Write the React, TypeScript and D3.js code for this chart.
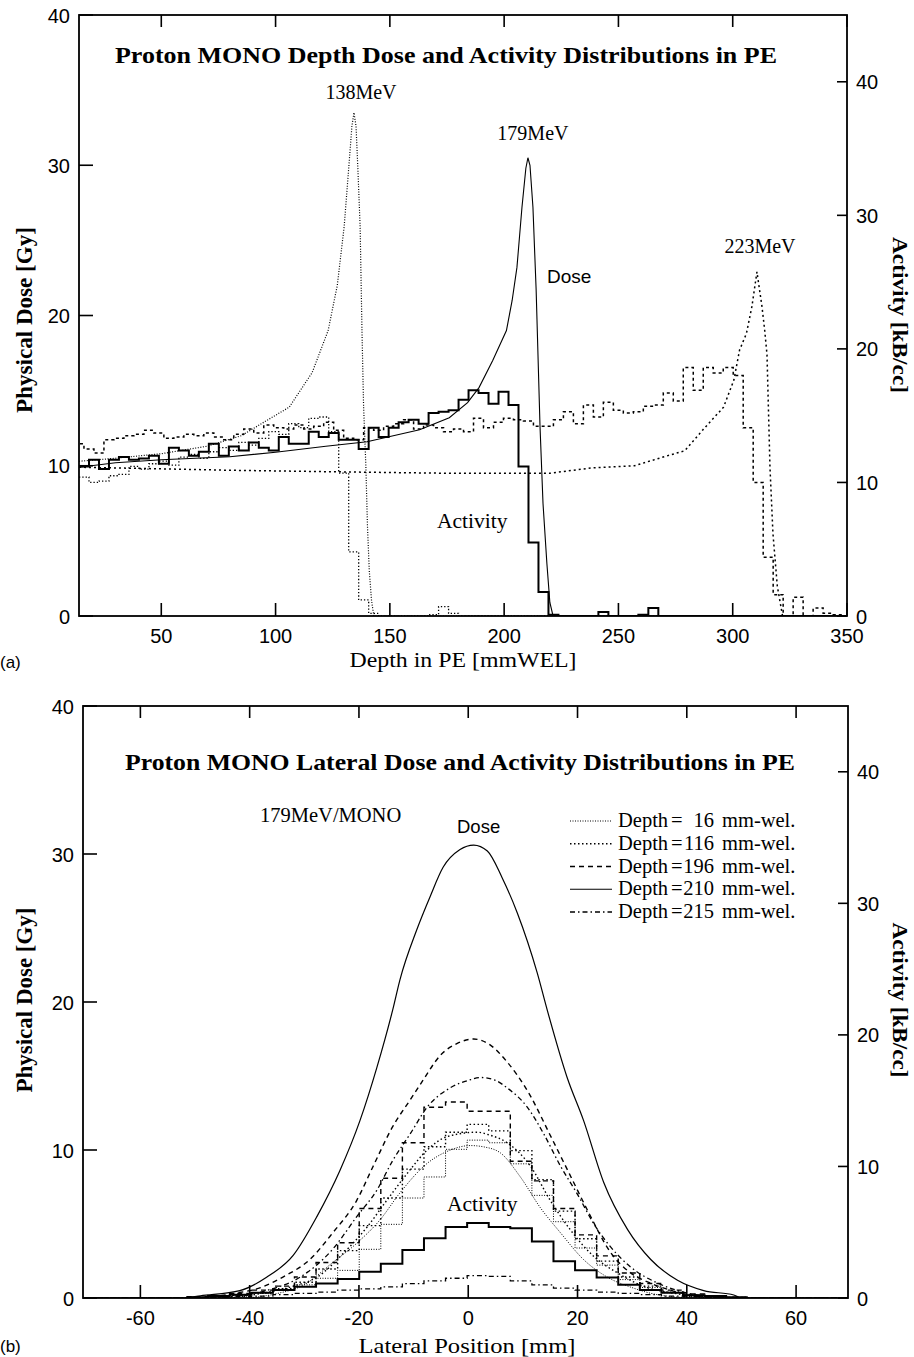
import React from 'react';
import * as d3 from 'd3';

// ---------------- Panel (a): depth distributions ----------------
const depthTicks = [50, 100, 150, 200, 250, 300, 350];
const doseTicksA = [0, 10, 20, 30, 40];
const actTicksA = [0, 10, 20, 30, 40];

// Dose curves [depth mm, Gy]
const dose138: [number, number][] = [
  [14, 10.3], [30, 10.5], [50, 10.8], [70, 11.3], [85, 12.0], [96, 13.0], [106, 13.9], [116, 16.2],
  [123, 19.0], [127, 22.0], [130, 25.9], [132, 29.8], [133.4, 32.6], [134.3, 33.5], [135.2, 32.6], [136, 29.8],
  [137, 25.9], [137.8, 19.0], [138.5, 14.0], [139.5, 10.0], [140.2, 6.0], [141, 3.0], [142, 1.0], [143, 0], [350, 0],
];
const dose179: [number, number][] = [
  [14, 9.9], [30, 10.2], [50, 10.4], [80, 10.6], [100, 10.9], [122, 11.3], [140, 11.6], [163, 12.4], [176, 13.2],
  [184, 14.2], [189, 15.2], [195, 17.0], [201, 19.0], [203.5, 21.0], [205.6, 23.2], [207.8, 27.2], [209.5, 29.8],
  [210.4, 30.5], [211.3, 30.0], [212.6, 27.2], [214, 21.7], [215.7, 12.6], [217, 7.5], [218.7, 3.5], [220, 0.9],
  [221.4, 0], [350, 0],
];
const dose223: [number, number][] = [
  [14, 9.9], [48, 9.8], [80, 9.7], [125, 9.6], [175, 9.5], [220, 9.5], [238, 9.85], [257, 10.0], [270, 10.6],
  [279, 11.0], [287, 12.4], [296, 13.9], [300.5, 15.7], [303, 17.7], [306, 18.8], [308.4, 20.6], [310.6, 22.9],
  [312.8, 20.6], [314, 19.0], [315, 17.4], [316.3, 9.9], [317.6, 5.5], [319.5, 2.0], [321.8, 0], [350, 0],
];

// Activity histograms [kBq/cc], bins of 4.37 mm
const binWidthA = 4.37;
const act138Start = 14;
const act138 = [
  10.4, 10.0, 10.1, 10.5, 10.6, 11.2, 11.0, 11.4, 11.6, 11.3, 11.9, 12.1, 11.8, 12.3, 12.6, 12.4, 13.0, 12.8, 13.3,
  13.8, 13.6, 14.4, 14.1, 14.8, 14.9, 13.8, 10.7, 4.8, 1.2, 0.2, 0, 0, 0, 0, 0, 0.1, 0.7, 0.2, 0, 0, 0, 0, 0, 0, 0,
  0, 0, 0, 0, 0, 0, 0, 0, 0, 0, 0, 0, 0, 0, 0, 0, 0, 0, 0, 0, 0, 0, 0, 0, 0, 0, 0, 0, 0, 0, 0, 0,
];
const act179Start = 14;
const act179 = [
  11.2, 11.7, 11.0, 11.7, 11.9, 11.7, 11.8, 12.0, 11.4, 12.6, 12.4, 12.0, 12.3, 12.9, 12.0, 12.7, 12.4, 13.0, 12.6,
  12.4, 13.4, 12.9, 12.9, 13.8, 13.4, 13.7, 13.2, 13.2, 12.5, 14.1, 13.4, 14.1, 14.5, 14.7, 14.4, 15.2, 15.3, 15.4,
  16.2, 16.9, 16.7, 15.9, 16.8, 15.8, 11.2, 5.5, 1.8, 0.1, 0, 0, 0, 0, 0.3, 0, 0, 0, 0.1, 0.6, 0, 0, 0, 0, 0, 0, 0,
  0, 0, 0, 0, 0, 0, 0, 0, 0, 0, 0, 0,
];
const act223Start = 11.8;
const act223 = [
  12.9, 12.5, 12.2, 13.2, 13.3, 13.5, 13.6, 13.9, 13.7, 13.3, 13.4, 13.6, 13.5, 13.7, 13.4, 13.2, 13.6, 14.0, 13.7,
  14.3, 14.1, 14.0, 14.3, 14.0, 14.2, 14.5, 13.9, 13.3, 13.2, 14.1, 13.9, 14.2, 14.4, 14.7, 14.0, 14.3, 14.1, 13.8,
  14.0, 13.8, 14.8, 14.1, 14.5, 14.8, 14.7, 14.6, 14.2, 14.2, 14.7, 15.3, 14.4, 15.8, 14.9, 16.0, 15.4, 15.2, 15.3,
  15.7, 15.8, 16.7, 16.1, 18.6, 16.9, 18.6, 18.2, 18.6, 18.0, 14.1, 10.0, 4.4, 1.6, 0, 1.4, 0, 0.6, 0.2, 0.1, 0,
];

// Energy labels placed at their Bragg peaks
const energyLabels = [
  { text: '138MeV', depth: 134.3, dose: 33.5, dx: 7, dy: -14 },
  { text: '179MeV', depth: 210.4, dose: 30.5, dx: 5, dy: -18 },
  { text: '223MeV', depth: 310.6, dose: 22.9, dx: 3, dy: -19 },
];

// ---------------- Panel (b): lateral distributions ----------------
const lateralTicks = [-60, -40, -20, 0, 20, 40, 60];
const doseTicksB = [0, 10, 20, 30, 40];
const actTicksB = [0, 10, 20, 30, 40];

const lat16: [number, number][] = [
  [-70, 0], [-42, 0], [-35, 0.3], [-30, 0.9], [-24.8, 2.4], [-20.4, 3.7], [-16.1, 5.3], [-12.5, 7.1], [-7.5, 9.1],
  [-3.9, 9.9], [0.4, 10.3], [3, 10.2], [5.9, 9.8], [9.5, 8.2], [13.2, 6.1], [16.9, 4.4], [21.1, 2.6], [25.5, 1.4],
  [30, 0.7], [35, 0.2], [42, 0], [70, 0],
];
const lat116: [number, number][] = [
  [-70, 0], [-45, 0], [-38, 0.3], [-32, 0.8], [-27.7, 1.4], [-22.9, 3.0], [-18.5, 4.8], [-14.9, 6.6], [-11.2, 8.4],
  [-7.5, 10.0], [-3.9, 10.9], [1.6, 11.2], [4, 11.0], [7.1, 10.5], [11.4, 8.9], [15, 6.6], [18.7, 4.6], [23, 2.8],
  [27.3, 1.7], [32, 0.8], [38, 0.3], [45, 0], [70, 0],
];
const lat196: [number, number][] = [
  [-70, 0], [-49, 0], [-43, 0.3], [-38, 0.7], [-34, 1.4], [-29, 2.6], [-24.8, 4.4], [-20.4, 6.6], [-17.4, 8.9],
  [-13.8, 11.6], [-10.6, 13.4], [-8.3, 14.7], [-5.1, 16.4], [-2, 17.2], [1, 17.5], [4, 17.1], [7, 16.0], [11, 13.9],
  [15, 11.0], [18.5, 8.4], [22, 5.8], [26, 3.1], [29.7, 1.7], [33.4, 1.0], [39.5, 0.3], [45.6, 0], [70, 0],
];
const lat210: [number, number][] = [
  [-70, 0], [-52, 0], [-49, 0.15], [-41.8, 0.5], [-36.9, 1.4], [-32, 2.9], [-27.7, 5.5], [-23.5, 8.6], [-19.8, 12.0],
  [-16.7, 15.6], [-13.8, 19.5], [-12.5, 21.5], [-9.4, 24.9], [-7, 27.1], [-4.6, 29.1], [-1.5, 30.3], [1, 30.6],
  [3.5, 30.2], [6.2, 28.4], [9, 26.0], [12.6, 22.0], [14.5, 19.4], [18.1, 14.9], [21.1, 12.0], [24.8, 7.8],
  [29.2, 4.6], [33.4, 2.6], [38.3, 1.2], [43.1, 0.5], [48.6, 0.2], [50, 0], [70, 0],
];
const lat215: [number, number][] = [
  [-70, 0], [-45, 0], [-43, 0.1], [-37, 0.5], [-30.8, 1.4], [-24.8, 3.3], [-20.4, 5.5], [-16.7, 7.3], [-13.8, 9.3],
  [-10.6, 11.1], [-7.5, 12.9], [-3.3, 14.2], [0, 14.7], [2.2, 14.9], [5, 14.7], [7.1, 14.2], [10.8, 12.9],
  [13.8, 11.1], [16.9, 8.9], [20, 7.0], [23, 5.0], [25.5, 3.7], [29.7, 2.1], [34.7, 1.0], [40.5, 0.3], [48, 0], [70, 0],
];

const binStartB = -51.55;
const binWidthB = 3.95;
const latAct16 = [0.05, 0.1, 0.2, 0.35, 0.6, 1.0, 1.5, 2.1, 3.7, 5.6, 7.6, 9.2, 11.3, 12.0, 11.8, 10.2, 7.8, 5.8, 3.8, 2.5, 1.4, 0.8, 0.4, 0.2, 0.1, 0.05];
const latAct116 = [0.05, 0.1, 0.2, 0.4, 0.7, 1.2, 2.2, 3.6, 5.5, 7.6, 9.8, 11.5, 12.6, 13.2, 12.7, 11.2, 9.0, 6.6, 4.5, 2.8, 1.6, 0.9, 0.45, 0.2, 0.1, 0.05];
const latAct196 = [0.1, 0.2, 0.35, 0.6, 0.9, 1.6, 2.7, 4.2, 6.8, 9.1, 11.8, 14.5, 14.9, 14.2, 14.2, 10.4, 8.9, 6.8, 4.8, 3.2, 1.9, 1.1, 0.6, 0.3, 0.15, 0.05];
const latAct210 = [0.05, 0.15, 0.25, 0.4, 0.6, 0.85, 1.1, 1.45, 2.0, 2.6, 3.65, 4.55, 5.4, 5.7, 5.4, 5.3, 4.3, 2.8, 2.1, 1.55, 1.0, 0.6, 0.4, 0.2, 0.15, 0.05];
const latAct215 = [0.02, 0.05, 0.1, 0.15, 0.25, 0.35, 0.45, 0.6, 0.7, 0.85, 1.1, 1.3, 1.5, 1.7, 1.65, 1.3, 1.0, 0.75, 0.6, 0.45, 0.35, 0.25, 0.15, 0.1, 0.05, 0.02];

const legendDepths = ['16', '116', '196', '210', '215'];

// ---------------- styles ----------------
const SERIF = '"Liberation Serif", "Times New Roman", serif';
const SANS = '"Liberation Sans", Arial, sans-serif';

const styleA = {
  dose138: { w: 1.2, dash: '1 1.6' },
  act138: { w: 1.3, dash: '1.3 2' },
  dose179: { w: 1.1, dash: '' },
  act179: { w: 2, dash: '' },
  dose223: { w: 1.5, dash: '2 3' },
  act223: { w: 1.5, dash: '3 3' },
};
const styleB = [
  { w: 1.0, dash: '1 1.5' },
  { w: 1.4, dash: '1.5 2.5' },
  { w: 1.4, dash: '5 4' },
  { w: 1.2, dash: '' },
  { w: 1.3, dash: '5 3 1.5 3' },
];

function histPoints(start: number, w: number, vals: number[]): [number, number][] {
  const pts: [number, number][] = vals.map((v, i) => [start + i * w, v]);
  pts.push([start + vals.length * w, vals[vals.length - 1]]);
  return pts;
}

type Frame = { l: number; r: number; t: number; b: number };

function FrameAxes({ f, x, y, y2, xt, yt, y2t }: any) {
  return (
    <g>
      <rect x={f.l} y={f.t} width={f.r - f.l} height={f.b - f.t} fill="none" stroke="#000" strokeWidth={1.8} />
      {yt.map((v: number) => (
        <g key={'yl' + v}>
          <line x1={f.l} x2={f.l + 14} y1={y(v)} y2={y(v)} stroke="#000" strokeWidth={1.6} />
          <text x={f.l - 9} y={y(v) + 7.5} textAnchor="end" fontFamily={SANS} fontSize={20}>{v}</text>
        </g>
      ))}
      {y2t.map((v: number) => (
        <g key={'yr' + v}>
          <line x1={f.r - 10} x2={f.r} y1={y2(v)} y2={y2(v)} stroke="#000" strokeWidth={1.6} />
          <text x={f.r + 9} y={y2(v) + 7.5} textAnchor="start" fontFamily={SANS} fontSize={20}>{v}</text>
        </g>
      ))}
      {xt.map((v: number) => (
        <g key={'x' + v}>
          <line x1={x(v)} x2={x(v)} y1={f.b} y2={f.b - 13} stroke="#000" strokeWidth={1.6} />
          <line x1={x(v)} x2={x(v)} y1={f.t} y2={f.t + 12} stroke="#000" strokeWidth={1.6} />
          <text x={x(v)} y={f.b + 27} textAnchor="middle" fontFamily={SANS} fontSize={20}>{v}</text>
        </g>
      ))}
    </g>
  );
}

export default function App() {
  // ---------- Panel A scales ----------
  const fA: Frame = { l: 79, r: 847, t: 15, b: 616 };
  const xA = d3.scaleLinear().domain([14, 350]).range([fA.l, fA.r]);
  const yA = d3.scaleLinear().domain([0, 40]).range([fA.b, fA.t]);
  const yA2 = d3.scaleLinear().domain([0, 45]).range([fA.b, fA.t]);
  const lineA = d3.line<[number, number]>().x((d) => xA(d[0])).y((d) => yA(d[1]));
  const histA = d3.line<[number, number]>().x((d) => xA(d[0])).y((d) => yA2(d[1])).curve(d3.curveStepAfter);

  // ---------- Panel B scales ----------
  const fB: Frame = { l: 83, r: 848, t: 706, b: 1298 };
  const xB = d3.scaleLinear().domain([-70.5, 69.5]).range([fB.l, fB.r]);
  const yB = d3.scaleLinear().domain([0, 40]).range([fB.b, fB.t]);
  const yB2 = d3.scaleLinear().domain([0, 45]).range([fB.b, fB.t]);
  const lineB = d3.line<[number, number]>().x((d) => xB(d[0])).y((d) => yB(d[1])).curve(d3.curveMonotoneX);
  const histB = d3.line<[number, number]>().x((d) => xB(d[0])).y((d) => yB2(d[1])).curve(d3.curveStepAfter);

  const latDose = [lat16, lat116, lat196, lat210, lat215];
  const latAct = [latAct16, latAct116, latAct196, latAct210, latAct215];

  const pathProps = (s: { w: number; dash: string }) => ({
    fill: 'none',
    stroke: '#000',
    strokeWidth: s.w,
    strokeDasharray: s.dash || undefined,
  });

  const legendX0 = 570;
  const legendX1 = 612;
  const legendY0 = 827;
  const legendDy = 22.75;

  return (
    <svg width={914} height={1357} style={{ position: 'absolute', left: 0, top: 0, background: '#fff' }}>
      <defs>
        <clipPath id="clipA"><rect x={fA.l} y={fA.t} width={fA.r - fA.l} height={fA.b - fA.t} /></clipPath>
        <clipPath id="clipB"><rect x={fB.l} y={fB.t} width={fB.r - fB.l} height={fB.b - fB.t} /></clipPath>
      </defs>
      <rect x={0} y={0} width={914} height={1357} fill="#fff" />

      {/* ================= Panel A ================= */}
      <g clipPath="url(#clipA)">
        <path d={lineA(dose138) || ''} {...pathProps(styleA.dose138)} />
        <path d={lineA(dose223) || ''} {...pathProps(styleA.dose223)} />
        <path d={lineA(dose179) || ''} {...pathProps(styleA.dose179)} />
        <path d={histA(histPoints(act138Start, binWidthA, act138)) || ''} {...pathProps(styleA.act138)} />
        <path d={histA(histPoints(act223Start, binWidthA, act223)) || ''} {...pathProps(styleA.act223)} />
        <path d={histA(histPoints(act179Start, binWidthA, act179)) || ''} {...pathProps(styleA.act179)} />
      </g>
      <FrameAxes f={fA} x={xA} y={yA} y2={yA2} xt={depthTicks} yt={doseTicksA} y2t={actTicksA} />
      <text x={446} y={63} textAnchor="middle" fontFamily={SERIF} fontWeight="bold" fontSize={24}
        textLength={662} lengthAdjust="spacingAndGlyphs">
        Proton MONO Depth Dose and Activity Distributions in PE
      </text>
      {energyLabels.map((e) => (
        <text key={e.text} x={xA(e.depth) + e.dx} y={yA(e.dose) + e.dy} textAnchor="middle"
          fontFamily={SERIF} fontSize={20}>{e.text}</text>
      ))}
      <text x={547} y={283} fontFamily={SANS} fontSize={19}>Dose</text>
      <text x={437} y={528} fontFamily={SERIF} fontSize={21.5}>Activity</text>
      <text x={463} y={667} textAnchor="middle" fontFamily={SERIF} fontSize={21.5}
        textLength={227} lengthAdjust="spacingAndGlyphs">Depth in PE [mmWEL]</text>
      <text transform={`translate(32,320) rotate(-90)`} textAnchor="middle" fontFamily={SERIF}
        fontWeight="bold" fontSize={24} textLength={186} lengthAdjust="spacingAndGlyphs">Physical Dose [Gy]</text>
      <text transform={`translate(893,315) rotate(90)`} textAnchor="middle" fontFamily={SERIF}
        fontWeight="bold" fontSize={21} textLength={156} lengthAdjust="spacingAndGlyphs">Activity [kB/cc]</text>
      <text x={0} y={668} fontFamily={SANS} fontSize={17}>(a)</text>

      {/* ================= Panel B ================= */}
      <g clipPath="url(#clipB)">
        {latDose.map((d, i) => (
          <path key={'ld' + i} d={lineB(d) || ''} {...pathProps(styleB[i])} />
        ))}
        {latAct.map((v, i) => (
          <path key={'la' + i} d={histB(histPoints(binStartB, binWidthB, v)) || ''}
            {...pathProps({ w: i === 3 ? 2 : styleB[i].w, dash: styleB[i].dash })} />
        ))}
      </g>
      <FrameAxes f={fB} x={xB} y={yB} y2={yB2} xt={lateralTicks} yt={doseTicksB} y2t={actTicksB} />
      <text x={460} y={770} textAnchor="middle" fontFamily={SERIF} fontWeight="bold" fontSize={24}
        textLength={670} lengthAdjust="spacingAndGlyphs">
        Proton MONO Lateral Dose and Activity Distributions in PE
      </text>
      <text x={260} y={822} fontFamily={SERIF} fontSize={20.5}>179MeV/MONO</text>
      <text x={457} y={833} fontFamily={SANS} fontSize={18.5}>Dose</text>
      <text x={447} y={1211} fontFamily={SERIF} fontSize={21.5}>Activity</text>
      {legendDepths.map((dep, i) => {
        const yy = legendY0 + i * legendDy;
        return (
          <g key={'lg' + dep}>
            <line x1={legendX0} x2={legendX1} y1={yy - 6} y2={yy - 6} {...pathProps(styleB[i])} />
            <text x={618} y={yy} fontFamily={SERIF} fontSize={20.5}>Depth</text>
            <text x={671} y={yy} fontFamily={SERIF} fontSize={20.5}>=</text>
            <text x={714} y={yy} textAnchor="end" fontFamily={SERIF} fontSize={20.5}>{dep}</text>
            <text x={722} y={yy} fontFamily={SERIF} fontSize={20.5}>mm-wel.</text>
          </g>
        );
      })}
      <text x={467} y={1353} textAnchor="middle" fontFamily={SERIF} fontSize={22}
        textLength={217} lengthAdjust="spacingAndGlyphs">Lateral Position [mm]</text>
      <text transform={`translate(32,1000) rotate(-90)`} textAnchor="middle" fontFamily={SERIF}
        fontWeight="bold" fontSize={24} textLength={185} lengthAdjust="spacingAndGlyphs">Physical Dose [Gy]</text>
      <text transform={`translate(893,1000) rotate(90)`} textAnchor="middle" fontFamily={SERIF}
        fontWeight="bold" fontSize={21} textLength={155} lengthAdjust="spacingAndGlyphs">Activity [kB/cc]</text>
      <text x={0} y={1352} fontFamily={SANS} fontSize={17}>(b)</text>
    </svg>
  );
}
